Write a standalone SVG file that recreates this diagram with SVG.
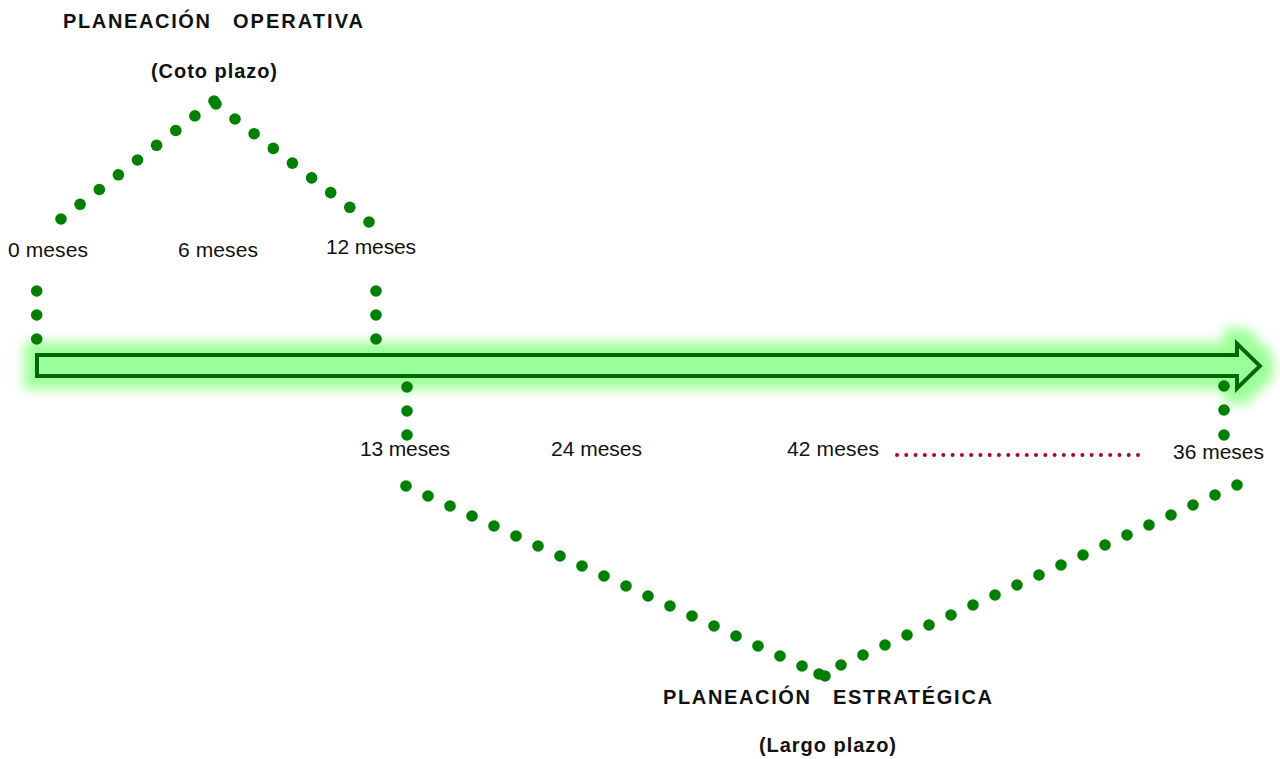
<svg xmlns="http://www.w3.org/2000/svg" width="1280" height="759" viewBox="0 0 1280 759">
<defs>
<filter id="glow" x="-5%" y="-150%" width="110%" height="400%">
<feMorphology in="SourceAlpha" operator="dilate" radius="11" result="d"/>
<feGaussianBlur in="d" stdDeviation="6" result="b"/>
<feFlood flood-color="#9cff96" result="c"/>
<feComposite in="c" in2="b" operator="in" result="g"/>
<feMerge><feMergeNode in="g"/><feMergeNode in="SourceGraphic"/></feMerge>
</filter>
</defs>
<style>
.dot{fill:#008000}
.lbl{font-family:"Liberation Sans",Arial,sans-serif;font-size:21px;fill:#111}
.ttl{font-family:"Liberation Sans",Arial,sans-serif;font-size:20px;font-weight:bold;fill:#111}
.red{stroke:#b3002d;stroke-width:4;stroke-linecap:round;stroke-dasharray:0 9.27;fill:none}
</style>
<rect width="1280" height="759" fill="#ffffff"/>

<g id="timeline">
<path d="M37,355 H1237 V343.5 L1260,366 L1237,388.5 V376 H37 Z" fill="#99ff99" stroke="#006600" stroke-width="4" stroke-linejoin="miter" filter="url(#glow)"/>
</g>

<g id="connectors">
<g id="top-v">
<circle class="dot" cx="61" cy="219" r="5.8"/><circle class="dot" cx="80.1" cy="204.3" r="5.8"/><circle class="dot" cx="99.3" cy="189.5" r="5.8"/><circle class="dot" cx="118.4" cy="174.8" r="5.8"/><circle class="dot" cx="137.5" cy="160" r="5.8"/><circle class="dot" cx="156.6" cy="145.3" r="5.8"/><circle class="dot" cx="175.8" cy="130.5" r="5.8"/><circle class="dot" cx="194.9" cy="115.8" r="5.8"/><circle class="dot" cx="214" cy="101" r="5.8"/><circle class="dot" cx="216" cy="104" r="5.8"/>
<circle class="dot" cx="235" cy="119" r="5.8"/><circle class="dot" cx="254.1" cy="133.7" r="5.8"/><circle class="dot" cx="273.3" cy="148.4" r="5.8"/><circle class="dot" cx="292.4" cy="163.1" r="5.8"/><circle class="dot" cx="311.6" cy="177.9" r="5.8"/><circle class="dot" cx="330.7" cy="192.6" r="5.8"/><circle class="dot" cx="349.8" cy="207.3" r="5.8"/><circle class="dot" cx="369" cy="222" r="5.8"/>
</g>
<g id="verticals">
<circle class="dot" cx="36.7" cy="291" r="5.8"/><circle class="dot" cx="36.7" cy="315" r="5.8"/><circle class="dot" cx="36.7" cy="339" r="5.8"/>
<circle class="dot" cx="376" cy="291" r="5.8"/><circle class="dot" cx="376" cy="315" r="5.8"/><circle class="dot" cx="376" cy="339" r="5.8"/>
<circle class="dot" cx="407" cy="387" r="5.8"/><circle class="dot" cx="407" cy="411" r="5.8"/><circle class="dot" cx="407" cy="435" r="5.8"/>
<circle class="dot" cx="1224" cy="386" r="5.8"/><circle class="dot" cx="1224" cy="410" r="5.8"/><circle class="dot" cx="1224" cy="435" r="5.8"/>
</g>
<g id="bottom-v">
<circle class="dot" cx="406" cy="486" r="5.8"/><circle class="dot" cx="428" cy="496" r="5.8"/><circle class="dot" cx="450" cy="506" r="5.8"/><circle class="dot" cx="472" cy="516" r="5.8"/><circle class="dot" cx="494" cy="526" r="5.8"/><circle class="dot" cx="516" cy="536" r="5.8"/><circle class="dot" cx="538" cy="546" r="5.8"/><circle class="dot" cx="560" cy="556" r="5.8"/><circle class="dot" cx="582" cy="566" r="5.8"/><circle class="dot" cx="604" cy="576" r="5.8"/><circle class="dot" cx="626" cy="586" r="5.8"/><circle class="dot" cx="648" cy="596" r="5.8"/><circle class="dot" cx="670" cy="606" r="5.8"/><circle class="dot" cx="692" cy="616" r="5.8"/><circle class="dot" cx="714" cy="626" r="5.8"/><circle class="dot" cx="736" cy="636" r="5.8"/><circle class="dot" cx="758" cy="646" r="5.8"/><circle class="dot" cx="780" cy="656" r="5.8"/><circle class="dot" cx="802" cy="666" r="5.8"/><circle class="dot" cx="819" cy="674" r="5.8"/><circle class="dot" cx="825" cy="676" r="5.8"/>
<circle class="dot" cx="841" cy="665" r="5.8"/><circle class="dot" cx="863" cy="655" r="5.8"/><circle class="dot" cx="885" cy="645" r="5.8"/><circle class="dot" cx="907" cy="635" r="5.8"/><circle class="dot" cx="929" cy="625" r="5.8"/><circle class="dot" cx="951" cy="615" r="5.8"/><circle class="dot" cx="973" cy="605" r="5.8"/><circle class="dot" cx="995" cy="595" r="5.8"/><circle class="dot" cx="1017" cy="585" r="5.8"/><circle class="dot" cx="1039" cy="575" r="5.8"/><circle class="dot" cx="1061" cy="565" r="5.8"/><circle class="dot" cx="1083" cy="555" r="5.8"/><circle class="dot" cx="1105" cy="545" r="5.8"/><circle class="dot" cx="1127" cy="535" r="5.8"/><circle class="dot" cx="1149" cy="525" r="5.8"/><circle class="dot" cx="1171" cy="515" r="5.8"/><circle class="dot" cx="1193" cy="505" r="5.8"/><circle class="dot" cx="1215" cy="495" r="5.8"/><circle class="dot" cx="1237" cy="485" r="5.8"/>
</g>
<path id="red-dots" class="red" d="M897,455 H1139"/>
</g>

<g id="title-operativa">
<text class="ttl" x="63" y="28" textLength="147" lengthAdjust="spacing">PLANEACIÓN</text>
<text class="ttl" x="233" y="28" textLength="130" lengthAdjust="spacing">OPERATIVA</text>
<text class="ttl" x="151" y="78" textLength="126" lengthAdjust="spacing">(Coto plazo)</text>
</g>
<g id="title-estrategica">
<text class="ttl" x="663" y="704" textLength="147" lengthAdjust="spacing">PLANEACIÓN</text>
<text class="ttl" x="833" y="704" textLength="159" lengthAdjust="spacing">ESTRATÉGICA</text>
<text class="ttl" x="759" y="752" textLength="137" lengthAdjust="spacing">(Largo plazo)</text>
</g>
<g id="labels">
<text class="lbl" x="8" y="257" textLength="80" lengthAdjust="spacing">0 meses</text>
<text class="lbl" x="178" y="257" textLength="80" lengthAdjust="spacing">6 meses</text>
<text class="lbl" x="326" y="254" textLength="90" lengthAdjust="spacing">12 meses</text>
<text class="lbl" x="360" y="456" textLength="90" lengthAdjust="spacing">13 meses</text>
<text class="lbl" x="551" y="456" textLength="91" lengthAdjust="spacing">24 meses</text>
<text class="lbl" x="787" y="456" textLength="92" lengthAdjust="spacing">42 meses</text>
<text class="lbl" x="1173" y="459" textLength="91" lengthAdjust="spacing">36 meses</text>
</g>
</svg>
